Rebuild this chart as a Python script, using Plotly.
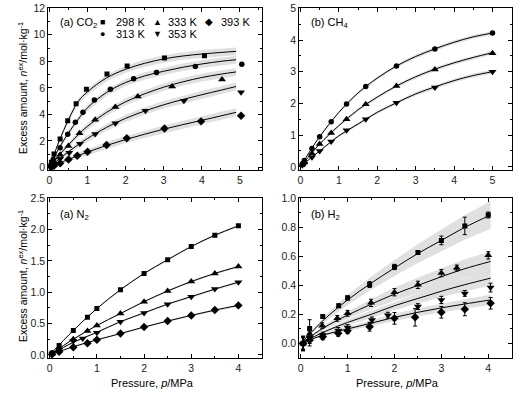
import plotly.graph_objects as go

# ---------------- CO2 (panel a, top-left) ----------------
co2_p_298 = [0.02, 0.05, 0.12, 0.28, 0.48, 0.70, 0.97, 1.51, 2.04, 3.02, 4.07]
co2_n_298 = [0.08, 0.38, 1.0, 2.14, 3.52, 4.8, 5.89, 7.05, 7.65, 8.25, 8.42]
co2_p_313 = [0.03, 0.10, 0.28, 0.48, 0.68, 0.88, 1.18, 1.6, 2.21, 2.81, 3.83, 5.05]
co2_n_313 = [0.15, 0.62, 1.48, 2.5, 3.4, 4.15, 5.08, 5.9, 6.68, 7.15, 7.6, 7.77]
co2_p_333 = [0.05, 0.12, 0.28, 0.5, 0.79, 1.2, 1.73, 2.32, 3.22, 4.53]
co2_n_333 = [0.12, 0.38, 0.95, 1.62, 2.57, 3.6, 4.55, 5.35, 6.1, 6.62]
co2_p_353 = [0.05, 0.12, 0.28, 0.52, 0.8, 1.2, 1.73, 2.52, 3.53, 5.03]
co2_n_353 = [0.08, 0.25, 0.65, 1.1, 1.78, 2.52, 3.32, 4.27, 5.03, 5.66]
co2_p_393 = [0.05, 0.12, 0.28, 0.5, 0.73, 1.0, 1.5, 2.03, 3.02, 3.98, 5.03]
co2_n_393 = [0.04, 0.12, 0.3, 0.6, 0.88, 1.18, 1.69, 2.2, 2.93, 3.47, 3.9]

co2_fit_p = [0, 0.1, 0.25, 0.5, 0.75, 1, 1.5, 2, 2.5, 3, 3.5, 4, 4.5, 4.9]
co2_fit_298 = [0, 0.8, 1.95, 3.6, 4.95, 5.7, 6.75, 7.4, 7.85, 8.18, 8.4, 8.55, 8.67, 8.75]
co2_fit_313 = [0, 0.6, 1.45, 2.6, 3.6, 4.5, 5.65, 6.4, 6.9, 7.25, 7.55, 7.8, 8.0, 8.12]
co2_fit_333 = [0, 0.35, 0.9, 1.7, 2.45, 3.1, 4.15, 4.95, 5.55, 6.05, 6.45, 6.78, 7.03, 7.2]
co2_fit_353 = [0, 0.25, 0.62, 1.18, 1.7, 2.18, 3.02, 3.7, 4.25, 4.72, 5.12, 5.48, 5.82, 6.1]
co2_fit_393 = [0, 0.12, 0.3, 0.6, 0.88, 1.15, 1.65, 2.1, 2.5, 2.88, 3.22, 3.55, 3.88, 4.15]
co2_band = [0, 0.1, 0.15, 0.2, 0.22, 0.24, 0.26, 0.27, 0.28, 0.28, 0.29, 0.3, 0.3, 0.3]

# ---------------- CH4 (panel b, top-right) ----------------
ch4_p = [0.05, 0.1, 0.3, 0.5, 0.8, 1.2, 1.7, 2.5, 3.5, 5.0]
ch4_n_313 = [0.1, 0.2, 0.58, 0.95, 1.42, 1.98, 2.53, 3.18, 3.72, 4.22]
ch4_n_333 = [0.07, 0.14, 0.42, 0.72, 1.07, 1.5, 1.97, 2.55, 3.07, 3.58]
ch4_n_353 = [0.05, 0.1, 0.3, 0.5, 0.8, 1.15, 1.5, 2.02, 2.5, 3.0]
ch4_fit_p = [0, 0.25, 0.5, 1, 1.5, 2, 2.5, 3, 3.5, 4, 4.5, 5]
ch4_fit_313 = [0, 0.5, 0.95, 1.72, 2.33, 2.8, 3.18, 3.48, 3.72, 3.93, 4.1, 4.22]
ch4_fit_333 = [0, 0.37, 0.72, 1.3, 1.8, 2.2, 2.55, 2.84, 3.08, 3.28, 3.45, 3.6]
ch4_fit_353 = [0, 0.26, 0.5, 0.98, 1.35, 1.72, 2.02, 2.3, 2.52, 2.72, 2.88, 3.0]
ch4_band = [0, 0.02, 0.03, 0.04, 0.05, 0.05, 0.05, 0.06, 0.06, 0.06, 0.06, 0.06]

# ---------------- N2 (panel a, bottom-left) ----------------
n2_p = [0.05, 0.2, 0.5, 0.8, 1.0, 1.5, 2.0, 2.5, 3.0, 3.5, 4.0]
n2_p_353 = [0.05, 0.2, 0.5, 0.7, 1.0, 1.5, 2.0, 2.5, 3.0, 3.5, 4.0]
n2_n_298 = [0.03, 0.15, 0.39, 0.6, 0.74, 1.04, 1.30, 1.52, 1.73, 1.91, 2.06]
n2_n_333 = [0.02, 0.09, 0.25, 0.38, 0.47, 0.66, 0.85, 1.02, 1.17, 1.30, 1.41]
n2_n_353 = [0.02, 0.08, 0.22, 0.26, 0.355, 0.53, 0.67, 0.81, 0.93, 1.05, 1.16]
n2_n_393 = [0.01, 0.05, 0.12, 0.185, 0.24, 0.34, 0.445, 0.54, 0.63, 0.715, 0.79]
n2_fit_p = [0, 0.5, 1, 1.5, 2, 2.5, 3, 3.5, 4.0]
n2_fit_298 = [0, 0.39, 0.74, 1.04, 1.30, 1.52, 1.73, 1.91, 2.06]
n2_fit_333 = [0, 0.25, 0.47, 0.66, 0.85, 1.02, 1.17, 1.30, 1.41]
n2_fit_353 = [0, 0.2, 0.36, 0.53, 0.67, 0.81, 0.93, 1.05, 1.16]
n2_fit_393 = [0, 0.13, 0.24, 0.34, 0.445, 0.54, 0.63, 0.715, 0.79]
n2_band = [0, 0.01, 0.012, 0.014, 0.015, 0.016, 0.017, 0.018, 0.02]

# ---------------- H2 (panel b, bottom-right) ----------------
h2_p_298 = [0.05, 0.19, 0.47, 0.81, 1.0, 1.47, 2.0, 2.5, 3.0, 3.5, 4.0]
h2_n_298 = [0.0, 0.104, 0.185, 0.26, 0.314, 0.406, 0.527, 0.626, 0.71, 0.81, 0.885]
h2_e_298 = [0.05, 0.06, 0.01, 0.012, 0.015, 0.02, 0.018, 0.012, 0.03, 0.06, 0.02]
h2_p_333 = [0.05, 0.19, 0.46, 0.78, 1.0, 1.5, 2.0, 2.5, 3.0, 3.33, 4.0]
h2_n_333 = [0.0, 0.065, 0.122, 0.173, 0.208, 0.28, 0.353, 0.404, 0.485, 0.52, 0.607]
h2_e_333 = [0.04, 0.04, 0.02, 0.02, 0.02, 0.025, 0.025, 0.025, 0.025, 0.02, 0.025]
h2_p_353 = [0.05, 0.19, 0.47, 0.8, 1.0, 1.52, 1.86, 2.5, 3.0, 3.5, 4.05]
h2_n_353 = [0.0, 0.04, 0.058, 0.09, 0.11, 0.162, 0.195, 0.254, 0.30, 0.345, 0.385]
h2_e_353 = [0.04, 0.04, 0.02, 0.02, 0.02, 0.02, 0.02, 0.02, 0.025, 0.02, 0.03]
h2_p_393 = [0.05, 0.19, 0.47, 0.8, 1.0, 1.47, 2.0, 2.44, 3.0, 3.5, 4.05]
h2_n_393 = [0.0, 0.023, 0.046, 0.07, 0.088, 0.115, 0.173, 0.18, 0.215, 0.236, 0.277]
h2_e_393 = [0.05, 0.04, 0.02, 0.02, 0.02, 0.03, 0.04, 0.06, 0.04, 0.045, 0.04]
h2_fit_p = [0, 0.5, 1, 1.5, 2, 2.5, 3, 3.5, 4.05]
h2_fit_298 = [0, 0.165, 0.3, 0.415, 0.52, 0.62, 0.71, 0.8, 0.885]
h2_fit_333 = [0, 0.11, 0.195, 0.27, 0.34, 0.4, 0.46, 0.515, 0.565]
h2_fit_353 = [0, 0.08, 0.145, 0.2, 0.26, 0.31, 0.36, 0.405, 0.45]
h2_fit_393 = [0, 0.06, 0.1, 0.14, 0.18, 0.215, 0.245, 0.272, 0.3]
h2_band_298 = [0, 0.02, 0.035, 0.045, 0.055, 0.065, 0.075, 0.085, 0.095]
h2_band_333 = [0, 0.015, 0.025, 0.035, 0.045, 0.055, 0.06, 0.065, 0.07]
h2_band_353 = [0, 0.01, 0.02, 0.025, 0.03, 0.035, 0.04, 0.045, 0.05]
h2_band_393 = [0, 0.01, 0.015, 0.02, 0.025, 0.028, 0.03, 0.032, 0.035]

SYM = {298: "square", 313: "circle", 333: "triangle-up", 353: "triangle-down", 393: "diamond"}
MSIZE = {298: 5, 313: 5.5, 333: 7, 353: 7, 393: 6.5}
BAND_COLOR = "rgba(0,0,0,0.12)"
FONT = "Arial, Liberation Sans, sans-serif"

fig = go.Figure()


def band(px, fit, hw, ax):
    up = [f + h for f, h in zip(fit, hw)]
    lo = [f - h for f, h in zip(fit, hw)]
    fig.add_trace(go.Scatter(x=list(px) + list(px)[::-1], y=up + lo[::-1],
                             fill="toself", fillcolor=BAND_COLOR, line=dict(width=0),
                             mode="lines", hoverinfo="skip", xaxis="x" + ax, yaxis="y" + ax))


def curve(px, fit, ax):
    fig.add_trace(go.Scatter(x=px, y=fit, mode="lines", line=dict(color="black", width=1, shape="spline"),
                             xaxis="x" + ax, yaxis="y" + ax))


def points(px, n, T, ax, err=None):
    kw = {}
    if err is not None:
        kw["error_y"] = dict(type="data", array=err, color="black", thickness=1, width=2)
    fig.add_trace(go.Scatter(x=px, y=n, mode="markers",
                             marker=dict(symbol=SYM[T], color="black", size=MSIZE[T]),
                             xaxis="x" + ax, yaxis="y" + ax, **kw))


# panel 1: CO2
for fit in [co2_fit_298, co2_fit_313, co2_fit_333, co2_fit_353, co2_fit_393]:
    band(co2_fit_p, fit, co2_band, "")
for fit in [co2_fit_298, co2_fit_313, co2_fit_333, co2_fit_353, co2_fit_393]:
    curve(co2_fit_p, fit, "")
points(co2_p_298, co2_n_298, 298, "")
points(co2_p_313, co2_n_313, 313, "")
points(co2_p_333, co2_n_333, 333, "")
points(co2_p_353, co2_n_353, 353, "")
points(co2_p_393, co2_n_393, 393, "")

# panel 2: CH4
for fit in [ch4_fit_313, ch4_fit_333, ch4_fit_353]:
    band(ch4_fit_p, fit, ch4_band, "2")
for fit in [ch4_fit_313, ch4_fit_333, ch4_fit_353]:
    curve(ch4_fit_p, fit, "2")
points(ch4_p, ch4_n_313, 313, "2")
points(ch4_p, ch4_n_333, 333, "2")
points(ch4_p, ch4_n_353, 353, "2")

# panel 3: N2
for fit in [n2_fit_298, n2_fit_333, n2_fit_353, n2_fit_393]:
    band(n2_fit_p, fit, n2_band, "3")
for fit in [n2_fit_298, n2_fit_333, n2_fit_353, n2_fit_393]:
    curve(n2_fit_p, fit, "3")
points(n2_p, n2_n_298, 298, "3")
points(n2_p, n2_n_333, 333, "3")
points(n2_p_353, n2_n_353, 353, "3")
points(n2_p, n2_n_393, 393, "3")

# panel 4: H2
for fit, hw in [(h2_fit_298, h2_band_298), (h2_fit_333, h2_band_333),
                (h2_fit_353, h2_band_353), (h2_fit_393, h2_band_393)]:
    band(h2_fit_p, fit, hw, "4")
for fit in [h2_fit_298, h2_fit_333, h2_fit_353, h2_fit_393]:
    curve(h2_fit_p, fit, "4")
points(h2_p_298, h2_n_298, 298, "4", h2_e_298)
points(h2_p_333, h2_n_333, 333, "4", h2_e_333)
points(h2_p_353, h2_n_353, 353, "4", h2_e_353)
points(h2_p_393, h2_n_393, 393, "4", h2_e_393)

W, H = 531, 393
def px_x(v):
    return v / W
def px_y(v):
    return 1 - v / H

L_DOM = [px_x(48.3), px_x(262)]
R_DOM = [px_x(299.3), px_x(511.7)]
T_DOM = [px_y(170), px_y(8.3)]
B_DOM = [px_y(358), px_y(198.3)]

tickfont = dict(family=FONT, size=10.5, color="#222")


def xax(dom, rng, anchor):
    return dict(domain=dom, range=rng, anchor=anchor, dtick=1, tick0=0, ticks="inside", ticklen=4,
                minor=dict(dtick=0.5, ticks="inside", ticklen=2, tickcolor="black"),
                showline=True, linecolor="black", linewidth=1, mirror="allticks", automargin=False,
                showgrid=False, zeroline=False, tickfont=tickfont, tickcolor="black")


def yax(dom, rng, anchor, dt, mdt, fmt=None):
    d = dict(domain=dom, range=rng, anchor=anchor, dtick=dt, tick0=0, ticks="inside", ticklen=4,
             minor=dict(dtick=mdt, ticks="inside", ticklen=2, tickcolor="black"),
             showline=True, linecolor="black", linewidth=1, mirror="allticks", automargin=False,
             showgrid=False, zeroline=False, tickfont=tickfont, tickcolor="black")
    if fmt:
        d["tickformat"] = fmt
    return d


annotations = []
def ann(text, x, y, xanchor="left", size=11, angle=0):
    annotations.append(dict(text=text, x=px_x(x), y=px_y(y), xref="paper", yref="paper",
                            xanchor=xanchor, yanchor="middle", showarrow=False, textangle=angle,
                            font=dict(family=FONT, size=size, color="black")))

ann("(a) CO<sub>2</sub>", 58, 23)
ann("■", 98, 22, size=9)
ann("298 K", 114, 22)
ann("▲", 151, 22, size=9)
ann("333 K", 166, 22)
ann("◆", 203, 22, size=10)
ann("393 K", 219, 22)
ann("●", 98, 34, size=9)
ann("313 K", 114, 34)
ann("▼", 151, 34, size=9)
ann("353 K", 166, 34)
ann("(b) CH<sub>4</sub>", 309, 23)
ann("(a) N<sub>2</sub>", 58, 215)
ann("(b) H<sub>2</sub>", 309, 215)
ytitle = "Excess amount, <i>n</i><sup>ex</sup>/mol·kg<sup>-1</sup>"
ann(ytitle, 22, 88, xanchor="center", size=10.5, angle=-90)
ann(ytitle, 22, 276, xanchor="center", size=10.5, angle=-90)
ann("Pressure, <i>p</i>/MPa", 152, 383, xanchor="center")
ann("Pressure, <i>p</i>/MPa", 397, 383, xanchor="center")

fig.update_layout(
    width=W, height=H, margin=dict(l=0, r=0, t=0, b=0, pad=0),
    paper_bgcolor="white", plot_bgcolor="white", showlegend=False,
    xaxis=xax(L_DOM, [-0.03, 5.58], "y"),
    yaxis=yax(T_DOM, [-0.2, 12], "x", 2, 1),
    xaxis2=xax(R_DOM, [-0.03, 5.5], "y2"),
    yaxis2=yax(T_DOM, [-0.1, 5], "x2", 1, 0.5),
    xaxis3=xax(L_DOM, [-0.03, 4.5], "y3"),
    yaxis3=yax(B_DOM, [-0.05, 2.5], "x3", 0.5, 0.25, ".1f"),
    xaxis4=xax(R_DOM, [-0.03, 4.5], "y4"),
    yaxis4=yax(B_DOM, [-0.1, 1.0], "x4", 0.2, 0.1, ".1f"),
    annotations=annotations,
)

fig.write_html("out.html", config={"displayModeBar": False},
               post_script="document.body.style.margin='0px';document.body.style.padding='0px';")
